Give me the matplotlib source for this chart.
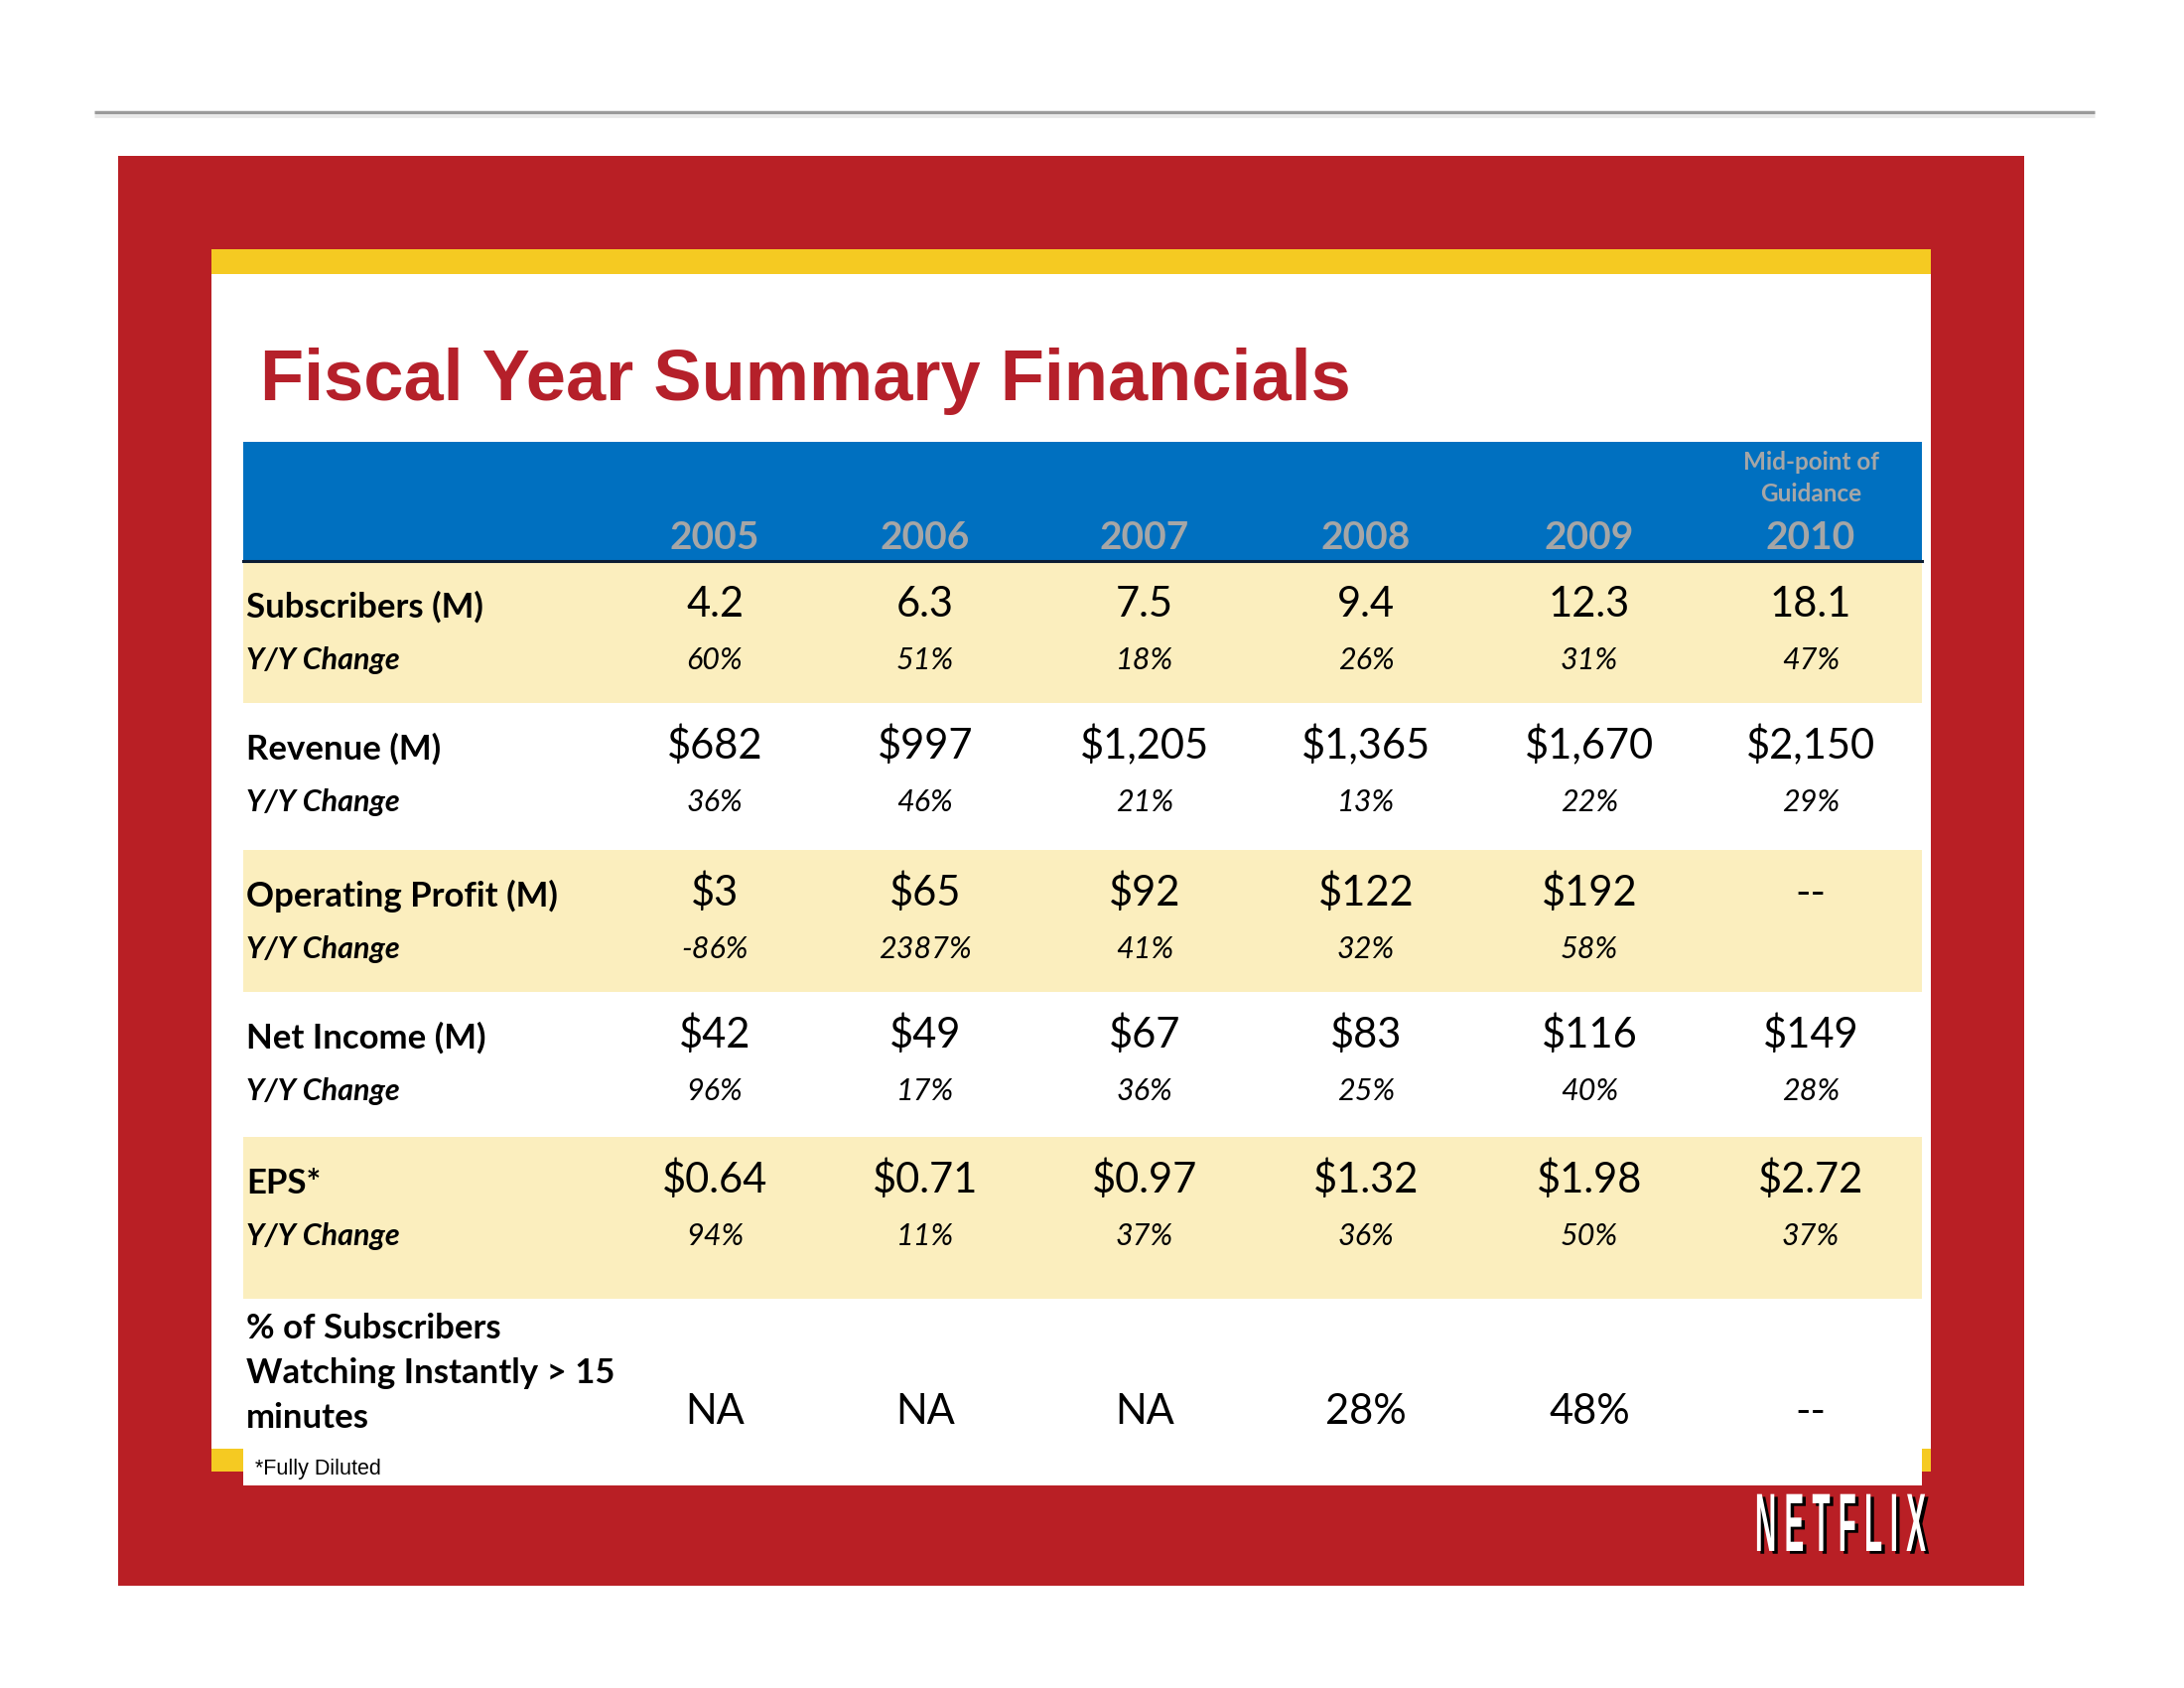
import matplotlib
matplotlib.use("Agg")
import matplotlib.pyplot as plt
import matplotlib.patches as mpatches
import matplotlib.colors as mcolors
from matplotlib.patheffects import AbstractPathEffect
from matplotlib.transforms import Affine2D

# data
years = ["2005", "2006", "2007", "2008", "2009", "2010"]
subscribers = ["4.2", "6.3", "7.5", "9.4", "12.3", "18.1"]
subscribers_yy = ["60%", "51%", "18%", "26%", "31%", "47%"]
revenue = ["$682", "$997", "$1,205", "$1,365", "$1,670", "$2,150"]
revenue_yy = ["36%", "46%", "21%", "13%", "22%", "29%"]
op_profit = ["$3", "$65", "$92", "$122", "$192", "--"]
op_profit_yy = ["-86%", "2387%", "41%", "32%", "58%", ""]
net_income = ["$42", "$49", "$67", "$83", "$116", "$149"]
net_income_yy = ["96%", "17%", "36%", "25%", "40%", "28%"]
eps = ["$0.64", "$0.71", "$0.97", "$1.32", "$1.98", "$2.72"]
eps_yy = ["94%", "11%", "37%", "36%", "50%", "37%"]
instant = ["NA", "NA", "NA", "28%", "48%", "--"]

rows = [
    ("Subscribers (M)", subscribers, subscribers_yy),
    ("Revenue (M)", revenue, revenue_yy),
    ("Operating Profit (M)", op_profit, op_profit_yy),
    ("Net Income (M)", net_income, net_income_yy),
    ("EPS*", eps, eps_yy),
]

# colours
RED = "#B91F25"
YELLOW = "#F5CA22"
BLUE = "#0070C0"
BAND = "#FBEEBE"
GREY_TXT = "#A6A6A6"
TITLE_RED = "#B5202A"
BODY = "Lato"

# layout in pixels (figure is 2200 x 1700)
col_x = [720, 932, 1153, 1376, 1601, 1824]
band_top = [565, 708, 856, 999, 1145, 1308, 1459]
tab_left, tab_right = 245, 1936
label_x = 248


class Squash(AbstractPathEffect):
    """draw text paths squeezed horizontally about anchor_x"""

    def __init__(self, ax, anchor_x, sx, offset=(0, 0), color=None):
        super().__init__(offset)
        self.ax = ax
        self.anchor_x = anchor_x
        self.sx = sx
        self.color = color

    def draw_path(self, renderer, gc, tpath, affine, rgbFace=None):
        x0 = self.ax.transData.transform((self.anchor_x, 0))[0]
        aff = (affine + Affine2D().translate(-x0, 0).scale(self.sx, 1).translate(x0, 0)
               + self._offset_transform(renderer))
        gc0 = renderer.new_gc()
        gc0.copy_properties(gc)
        if self.color is not None:
            rgbFace = mcolors.to_rgba(self.color)
            gc0.set_foreground(self.color)
        renderer.draw_path(gc0, tpath, aff, rgbFace)
        gc0.restore()


fig = plt.figure(figsize=(22, 17), dpi=100)
ax = fig.add_axes([0, 0, 1, 1])
ax.set_xlim(0, 2200)
ax.set_ylim(1700, 0)
ax.axis("off")

def box(x0, y0, x1, y1, color, z=1):
    ax.add_patch(mpatches.Rectangle((x0, y0), x1 - x0, y1 - y0, facecolor=color,
                                    edgecolor="none", zorder=z))

# top rule
ax.plot([95, 2110], [113, 113], color="#9A9A9A", lw=2.5, solid_capstyle="butt", zorder=1)
ax.plot([95, 2110], [117, 117], color="#E8E8E8", lw=2, solid_capstyle="butt", zorder=1)

# slide frame
box(119, 157, 2039, 1597, RED)
box(213, 251, 1945, 1482, "white", 2)
box(213, 251, 1945, 276, YELLOW, 3)
box(213, 1459, 1945, 1482, YELLOW, 3)
box(tab_left, 565, tab_right, 1496, "white", 4)

# title
ax.text(262, 403, "Fiscal Year Summary Financials", fontsize=52, fontweight="bold",
        color=TITLE_RED, family="Liberation Sans", va="baseline", ha="left", zorder=6)

# header
box(tab_left, 445, tab_right, 565, BLUE, 5)
ax.plot([tab_left, tab_right], [565, 565], color="#0B1C33", lw=2.2, zorder=7)
for x, yr in zip(col_x, years):
    ax.text(x, 553, yr, fontsize=28, fontweight="bold", color=GREY_TXT, family=BODY,
            ha="center", va="baseline", zorder=8)
ax.text(col_x[-1], 473, "Mid-point of", fontsize=17.5, fontweight="bold", color=GREY_TXT,
        family=BODY, ha="center", va="baseline", zorder=8)
ax.text(col_x[-1], 505, "Guidance", fontsize=17.5, fontweight="bold", color=GREY_TXT,
        family=BODY, ha="center", va="baseline", zorder=8)

# body rows
for i, (label, vals, yy) in enumerate(rows):
    top = band_top[i]
    if i % 2 == 0:
        box(tab_left, top, tab_right, band_top[i + 1], BAND, 5)
    ax.text(label_x, top + 57, label, fontsize=25, fontweight="bold", family=BODY,
            color="black", ha="left", va="baseline", zorder=8)
    ax.text(label_x, top + 109, "Y/Y Change", fontsize=22, fontweight="bold",
            fontstyle="italic", family=BODY, color="black", ha="left", va="baseline", zorder=8)
    for x, v, c in zip(col_x, vals, yy):
        ax.text(x, top + 56, v, fontsize=30, family=BODY, color="black",
                ha="center", va="baseline", zorder=8)
        ax.text(x, top + 109, c, fontsize=22, fontstyle="italic", family=BODY,
                color="black", ha="center", va="baseline", zorder=8)

# streaming row
for y, line in zip([1348, 1393, 1438], ["% of Subscribers", "Watching Instantly > 15", "minutes"]):
    ax.text(label_x, y, line, fontsize=25, fontweight="bold", family=BODY, color="black",
            ha="left", va="baseline", zorder=8)
for x, v in zip(col_x, instant):
    ax.text(x, 1434, v, fontsize=30, family=BODY, color="black",
            ha="center", va="baseline", zorder=8)

ax.text(257, 1485, "*Fully Diluted", fontsize=15.5, family="Liberation Sans", color="black",
        ha="left", va="baseline", zorder=8)

# logo, squeezed about its right edge
ax.text(1940, 1562, "N E T F L I X", fontsize=60, fontweight="bold", family="Liberation Sans",
        color="white", ha="right", va="baseline", zorder=8,
        path_effects=[Squash(ax, 1940, 0.355, offset=(2.5, -2), color="black"),
                      Squash(ax, 1940, 0.355)])

fig.savefig("out.png", dpi=100)
